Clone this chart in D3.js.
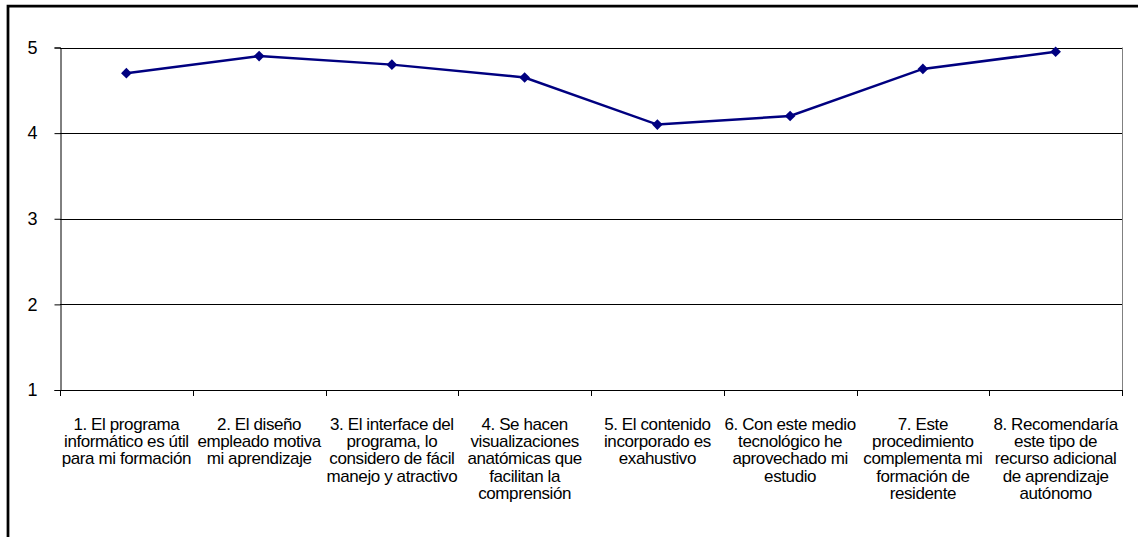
<!DOCTYPE html>
<html>
<head>
<meta charset="utf-8">
<script src="https://cdn.jsdelivr.net/npm/d3@7"></script>
<style>
  html, body { margin: 0; padding: 0; background: #fff; }
  svg { display: block; }
</style>
</head>
<body>
<svg id="chart" width="1138" height="537"></svg>
<script>
// Survey items (each label split into its displayed lines)
const categories = [
  ["1. El programa", "informático es útil", "para mi formación"],
  ["2. El diseño", "empleado motiva", "mi aprendizaje"],
  ["3. El interface del", "programa, lo", "considero de fácil", "manejo y atractivo"],
  ["4. Se hacen", "visualizaciones", "anatómicas que", "facilitan la", "comprensión"],
  ["5. El contenido", "incorporado es", "exahustivo"],
  ["6. Con este medio", "tecnológico he", "aprovechado mi", "estudio"],
  ["7. Este", "procedimiento", "complementa mi", "formación de", "residente"],
  ["8. Recomendaría", "este tipo de", "recurso adicional", "de aprendizaje", "autónomo"]
];
// Mean score per item
const values = [4.7, 4.9, 4.8, 4.65, 4.1, 4.2, 4.75, 4.95];
const yTicks = [1, 2, 3, 4, 5];

const svg = d3.select("#chart");
const plot = { left: 60, right: 1122, top: 47.5, bottom: 390 };

// Outer frame (top and left edges)
svg.append("path")
  .attr("d", "M8,540 L8,6 L1142,6")
  .attr("fill", "none")
  .attr("stroke", "#000")
  .attr("stroke-width", 2.75);

const x = d3.scaleBand()
  .domain(d3.range(categories.length))
  .range([plot.left, plot.right])
  .paddingInner(0).paddingOuter(0);

const y = d3.scaleLinear()
  .domain([1, 5])
  .range([plot.bottom, plot.top]);

// Horizontal gridlines
svg.append("g")
  .selectAll("line")
  .data(yTicks.filter(t => t > 1))
  .join("line")
  .attr("x1", plot.left).attr("x2", plot.right)
  .attr("y1", d => Math.round(y(d)) + 0.5)
  .attr("y2", d => Math.round(y(d)) + 0.5)
  .attr("stroke", "#000")
  .attr("stroke-width", 1);

// Right edge of plot area
svg.append("line")
  .attr("x1", plot.right + 0.5).attr("x2", plot.right + 0.5)
  .attr("y1", plot.top).attr("y2", plot.bottom)
  .attr("stroke", "#808080")
  .attr("stroke-width", 1);

// Y axis
const yAxis = svg.append("g")
  .attr("transform", `translate(${plot.left + 0.5},0)`)
  .call(d3.axisLeft(y).tickValues(yTicks).tickFormat(d3.format("d")).tickSize(6).tickPadding(17));
yAxis.select(".domain").attr("stroke", "#000");
yAxis.selectAll(".tick line").attr("stroke", "#000");
yAxis.selectAll(".tick text")
  .attr("font-family", "Liberation Sans, Arial, sans-serif")
  .attr("font-size", 18)
  .attr("fill", "#000");

// X axis with ticks at category boundaries
const boundaries = d3.range(categories.length + 1).map(i =>
  i < categories.length ? x(i) : x(categories.length - 1) + x.bandwidth());
const xAxisG = svg.append("g");
xAxisG.append("line")
  .attr("x1", plot.left).attr("x2", plot.right + 1)
  .attr("y1", plot.bottom + 0.5).attr("y2", plot.bottom + 0.5)
  .attr("stroke", "#000");
xAxisG.selectAll("line.tick")
  .data(boundaries)
  .join("line")
  .attr("class", "tick")
  .attr("x1", d => Math.round(d) + 0.5).attr("x2", d => Math.round(d) + 0.5)
  .attr("y1", plot.bottom).attr("y2", plot.bottom + 6)
  .attr("stroke", "#000");

// Category labels
const labels = svg.append("g")
  .attr("font-family", "Liberation Sans, Arial, sans-serif")
  .attr("font-size", 17)
  .attr("letter-spacing", -0.4)
  .attr("fill", "#000")
  .attr("text-anchor", "middle");
labels.selectAll("text")
  .data(categories)
  .join("text")
  .attr("transform", (d, i) => `translate(${x(i) + x.bandwidth() / 2},429.5)`)
  .selectAll("tspan")
  .data(d => d)
  .join("tspan")
  .attr("x", 0)
  .attr("y", (d, i) => i * 17.4)
  .text(d => d);

// Series line
const line = d3.line()
  .x((d, i) => x(i) + x.bandwidth() / 2)
  .y(d => y(d));
svg.append("path")
  .datum(values)
  .attr("d", line)
  .attr("fill", "none")
  .attr("stroke", "#000080")
  .attr("stroke-width", 2.5);

// Diamond markers
const diamond = d3.symbol().type(d3.symbolDiamond2).size(72);
svg.append("g")
  .selectAll("path")
  .data(values)
  .join("path")
  .attr("transform", (d, i) => `translate(${x(i) + x.bandwidth() / 2},${y(d)})`)
  .attr("d", diamond)
  .attr("fill", "#000080");
</script>
</body>
</html>
